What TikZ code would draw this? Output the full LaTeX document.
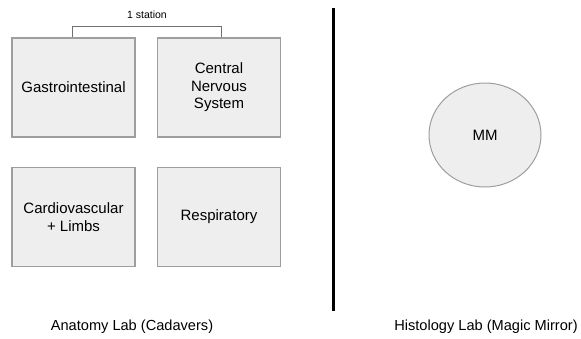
\documentclass[tikz,border=0pt]{standalone}
\usepackage{fontspec}
\setmainfont{Liberation Sans}
\usetikzlibrary{shapes.geometric}
\definecolor{boxfill}{HTML}{EEEEEE}
\definecolor{boxline}{HTML}{9E9E9E}
\definecolor{brk}{HTML}{707070}
\begin{document}
\begin{tikzpicture}[x=1pt,y=-1pt,
  sysbox/.style={draw=boxline,fill=boxfill,line width=1.2pt,minimum width=123pt,minimum height=99pt,inner sep=0pt,align=center,font=\fontsize{15}{17.5}\selectfont},
  lbl/.style={font=\fontsize{14.6}{17}\selectfont,inner sep=0pt},
  small/.style={font=\fontsize{10.5}{12}\selectfont,inner sep=0pt}]
\useasboundingbox (0,0) rectangle (581,338);
\node[sysbox] (gi) at (73.5,87.5) {Gastrointestinal};
\node[sysbox] (cns) at (219,87.5) {Central\\Nervous\\System};
\node[sysbox] (cv) at (73.5,217) {Cardiovascular\\+ Limbs};
\node[sysbox] (resp) at (219,217) {Respiratory};
\coordinate (bl) at (72,26);
\coordinate (br) at (221,26);
\draw[brk,line width=0.8pt] (gi.north -| bl) -- (bl) -- (br) -- (cns.north -| br);
\node[small] (st) at (147,15) {1 station};
\coordinate (vt) at (333,8);
\coordinate (vb) at (333,311);
\draw[black,line width=3pt] (vt) -- (vb);
\node[draw=boxline,fill=boxfill,line width=1pt,ellipse,minimum width=112pt,minimum height=104pt,inner sep=0pt,font=\fontsize{15}{17.5}\selectfont] (mm) at (485,135) {MM};
\node[lbl] (ana) at (132,327) {Anatomy Lab (Cadavers)};
\node[lbl] (his) at (486,327) {Histology Lab (Magic Mirror)};
\end{tikzpicture}
\end{document}
